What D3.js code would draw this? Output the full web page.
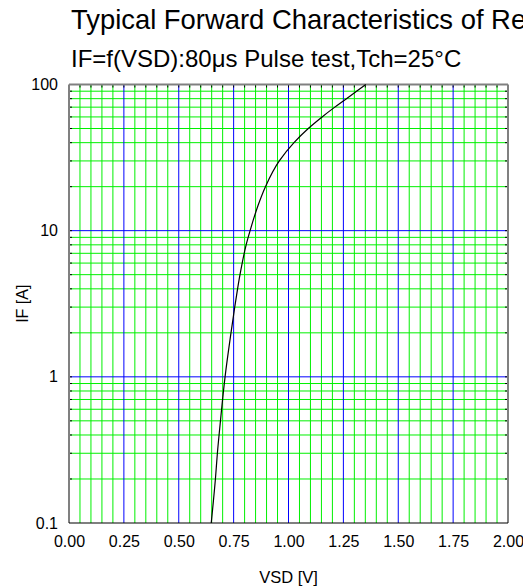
<!DOCTYPE html>
<html>
<head>
<meta charset="utf-8">
<script src="https://cdn.jsdelivr.net/npm/d3@7"></script>
<style>
html,body{margin:0;padding:0;background:#fff;overflow:hidden;}
svg{display:block;font-family:"Liberation Sans",Arial,sans-serif;}
</style>
</head>
<body>
<svg id="chart" width="523" height="587"></svg>
<script>
const titleText = "Typical Forward Characteristics of Reverse Diode";
const subtitleText = "IF=f(VSD):80μs Pulse test,Tch=25°C";
const xLabel = "VSD [V]";
const yLabel = "IF [A]";
const xTickValues = [0, 0.25, 0.5, 0.75, 1.0, 1.25, 1.5, 1.75, 2.0];
const yTickValues = [0.1, 1, 10, 100];
const yTickLabels = ["0.1", "1", "10", "100"];
const vsd = [0.648, 0.667, 0.676, 0.690, 0.711, 0.738, 0.755, 0.768, 0.779, 0.789, 0.807, 0.825, 0.862, 0.895, 0.958, 1.025, 1.090, 1.153, 1.211, 1.264, 1.310, 1.352];
const iF  = [0.1,   0.2,   0.3,   0.5,   1,     2,     3,     4,     5,     6,     8,     10,    15,    20,    30,    40,    50,    60,    70,    80,    90,    100];

const svg = d3.select("#chart");
const L = 69, R = 508, T = 84.5, B = 523;
const x = d3.scaleLinear().domain([0, 2]).range([L, R]);
const y = d3.scaleLog().domain([0.1, 100]).range([B, T]);

// grid values
const vGrid = d3.range(1, 40).map(i => i * 0.05);
const hGrid = [];
[0.1, 1, 10].forEach(d => { for (let k = 1; k <= 9; k++) { const v = d * k; if (v > 0.1 && v < 100) hGrid.push(v); } });
const isMajorX = v => Math.abs(v / 0.25 - Math.round(v / 0.25)) < 1e-6;
const isMajorY = v => Math.abs(Math.log10(v) - Math.round(Math.log10(v))) < 1e-6;

const g = svg.append("g");
// green minor grid
g.selectAll(".vg").data(vGrid.filter(v => !isMajorX(v))).enter().append("line")
  .attr("x1", d => x(d)).attr("x2", d => x(d)).attr("y1", T).attr("y2", B)
  .attr("stroke", "#00f000").attr("stroke-width", 1);
g.selectAll(".hg").data(hGrid.filter(v => !isMajorY(v))).enter().append("line")
  .attr("y1", d => y(d)).attr("y2", d => y(d)).attr("x1", L).attr("x2", R)
  .attr("stroke", "#00f000").attr("stroke-width", 1);
// blue major grid
g.selectAll(".vb").data(vGrid.filter(isMajorX)).enter().append("line")
  .attr("x1", d => x(d)).attr("x2", d => x(d)).attr("y1", T).attr("y2", B)
  .attr("stroke", "#0000ff").attr("stroke-width", 1);
g.selectAll(".hb").data(hGrid.filter(isMajorY)).enter().append("line")
  .attr("y1", d => y(d)).attr("y2", d => y(d)).attr("x1", L).attr("x2", R)
  .attr("stroke", "#0000ff").attr("stroke-width", 1);

// borders
g.append("line").attr("x1", L).attr("x2", R).attr("y1", T).attr("y2", T).attr("stroke", "#808080").attr("stroke-width", 2);
g.append("line").attr("x1", R).attr("x2", R).attr("y1", T).attr("y2", B).attr("stroke", "#808080").attr("stroke-width", 2);
g.append("line").attr("x1", L).attr("x2", L).attr("y1", T).attr("y2", B).attr("stroke", "#808080").attr("stroke-width", 2);
g.append("line").attr("x1", L).attr("x2", R).attr("y1", B).attr("y2", B).attr("stroke", "#000").attr("stroke-width", 1.2);

// small black tick marks on borders
g.selectAll(".tt").data(vGrid).enter().append("line")
  .attr("x1", d => x(d)).attr("x2", d => x(d)).attr("y1", T + 1).attr("y2", T + 3)
  .attr("stroke", "#000").attr("stroke-width", 1);
g.selectAll(".tl").data(hGrid).enter().append("line")
  .attr("y1", d => y(d)).attr("y2", d => y(d)).attr("x1", L + 1).attr("x2", L + 3)
  .attr("stroke", "#000").attr("stroke-width", 1);
g.selectAll(".tr").data(hGrid).enter().append("line")
  .attr("y1", d => y(d)).attr("y2", d => y(d)).attr("x1", R - 3).attr("x2", R - 1)
  .attr("stroke", "#000").attr("stroke-width", 1);

// curve
const pts = vsd.map((v, i) => [v, iF[i]]);
g.append("path").datum(pts)
  .attr("fill", "none").attr("stroke", "#000").attr("stroke-width", 1.2)
  .attr("d", d3.line().x(d => x(d[0])).y(d => y(d[1])).curve(d3.curveMonotoneY));

// axes labels
const xAxis = d3.axisBottom(x).tickValues(xTickValues).tickFormat(d3.format(".2f")).tickSize(0).tickPadding(0);
const xa = svg.append("g").attr("transform", `translate(0,${B})`).call(xAxis);
xa.select(".domain").remove();
xa.selectAll("text").attr("font-size", 16).attr("font-family", "Liberation Sans, Arial, sans-serif")
  .attr("fill", "#000").attr("dy", null).attr("y", 23.5);

const yAxis = d3.axisLeft(y).tickValues(yTickValues).tickFormat((d, i) => yTickLabels[i]).tickSize(0).tickPadding(11);
const ya = svg.append("g").attr("transform", `translate(${L},0)`).call(yAxis);
ya.select(".domain").remove();
ya.selectAll("text").attr("font-size", 16).attr("font-family", "Liberation Sans, Arial, sans-serif")
  .attr("fill", "#000").attr("dy", "0.32em");

svg.append("text").attr("x", (L + R) / 2).attr("y", 583).attr("text-anchor", "middle")
  .attr("font-size", 16.5).text(xLabel);
svg.append("text").attr("transform", `translate(28,${(T + B) / 2}) rotate(-90)`).attr("text-anchor", "middle")
  .attr("font-size", 16).text(yLabel);

svg.append("text").attr("x", 71).attr("y", 29).attr("font-size", 27.4).text(titleText);
svg.append("text").attr("x", 71).attr("y", 66.5).attr("font-size", 24).text(subtitleText);
</script>
</body>
</html>
